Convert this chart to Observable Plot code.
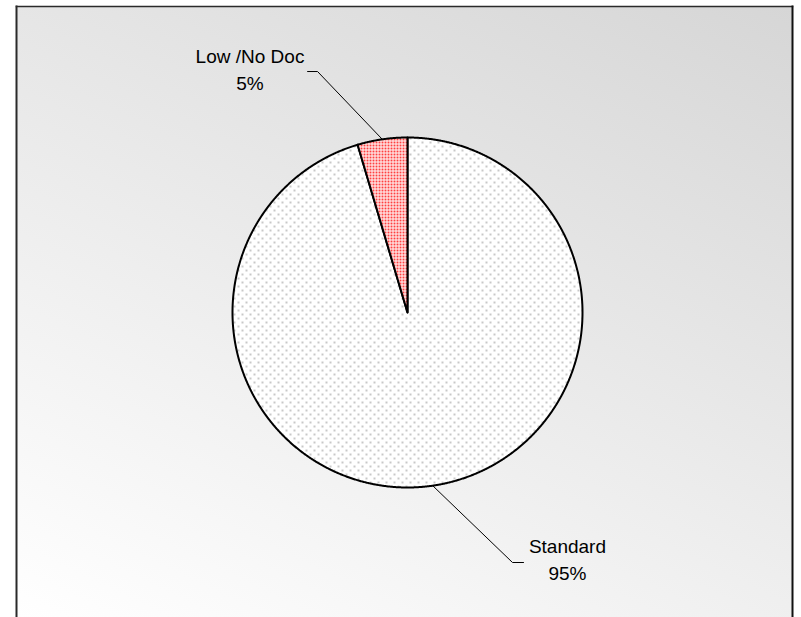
<!DOCTYPE html>
<html><head><meta charset="utf-8">
<script src="https://cdn.jsdelivr.net/npm/d3@7"></script>
<script src="https://cdn.jsdelivr.net/npm/@observablehq/plot@0.6"></script>
<style>
body{margin:0;background:#fff;}
#chart{width:801px;height:617px;overflow:hidden;}
</style>
</head><body><div id="chart"></div>
<script>
// ---- data ----
const categories = ["Standard", "Low /No Doc"];
const values = [95.4, 4.6];
const percentLabels = ["95%", "5%"];

// ---- layout (unit-circle coordinates, pie radius = 1) ----
const labelPos = {"Standard": [0.914, -1.531], "Low /No Doc": [-0.9, 1.274]};
const leaderElbow = {"Standard": [[0.6, -1.4286], [0.663, -1.4286]], "Low /No Doc": [[-0.514, 1.377], [-0.571, 1.377]]};

const rows = categories.map((c, i) => ({category: c, value: values[i], pct: percentLabels[i]}));
const arcs = d3.pie().sort(null).value(d => d.value).startAngle(0).endAngle(2 * Math.PI)(rows);

// slice polygons
const slicePts = [];
for (const a of arcs) {
  const cat = a.data.category;
  slicePts.push({cat, x: 0, y: 0});
  const n = Math.max(2, Math.ceil((a.endAngle - a.startAngle) / (Math.PI / 720)));
  for (let k = 0; k <= n; ++k) {
    const t = a.startAngle + (a.endAngle - a.startAngle) * k / n;
    slicePts.push({cat, x: Math.sin(t), y: Math.cos(t)});
  }
}
// leader lines
const leaderPts = [];
for (const a of arcs) {
  const cat = a.data.category;
  const m = (a.startAngle + a.endAngle) / 2;
  leaderPts.push({cat, x: Math.sin(m), y: Math.cos(m)});
  for (const [x, y] of leaderElbow[cat]) leaderPts.push({cat, x, y});
}
const labels = arcs.map(a => ({
  cat: a.data.category,
  text: a.data.category + "\n" + a.data.pct,
  x: labelPos[a.data.category][0],
  y: labelPos[a.data.category][1]
}));

function defs() {
  const d = d3.create("svg:defs");
  const g = d.append("linearGradient").attr("id", "bgGrad")
    .attr("x1", 1).attr("y1", 0).attr("x2", 0.281).attr("y2", 1.172);
  g.append("stop").attr("offset", 0).attr("stop-color", "#d6d6d6");
  g.append("stop").attr("offset", 1).attr("stop-color", "#ffffff");
  const p1 = d.append("pattern").attr("id", "patStd").attr("patternUnits", "userSpaceOnUse")
    .attr("width", 8).attr("height", 8);
  p1.append("rect").attr("width", 8).attr("height", 8).attr("fill", "#ffffff");
  p1.append("rect").attr("x", 1).attr("y", 1).attr("width", 2).attr("height", 2).attr("fill", "#c8c8c8");
  p1.append("rect").attr("x", 5).attr("y", 5).attr("width", 2).attr("height", 2).attr("fill", "#c8c8c8");
  const p2 = d.append("pattern").attr("id", "patLow").attr("patternUnits", "userSpaceOnUse")
    .attr("width", 3).attr("height", 3);
  p2.append("rect").attr("width", 3).attr("height", 3).attr("fill", "#ffffff");
  p2.append("rect").attr("x", 0).attr("y", 0).attr("width", 2).attr("height", 2).attr("fill", "#ff4040");
  return d.node();
}

const chart = Plot.plot({
  width: 801,
  height: 617,
  marginLeft: 16,
  marginTop: 6,
  marginRight: 9,
  marginBottom: 0,
  x: {domain: [-1, 1], range: [232, 582], axis: null},
  y: {domain: [-1, 1], range: [487, 137], axis: null},
  color: {type: "ordinal", domain: categories, range: ["url(#patStd)", "url(#patLow)"]},
  style: {fontFamily: "'Liberation Sans', Arial, sans-serif", background: "transparent", overflow: "visible"},
  marks: [
    defs,
    Plot.frame({fill: "url(#bgGrad)", stroke: "none"}),
    Plot.frame({anchor: "left", stroke: "#2a2a2a", strokeWidth: 2}),
    Plot.frame({anchor: "top", stroke: "#2a2a2a", strokeWidth: 1.5}),
    Plot.frame({anchor: "right", stroke: "#111", strokeWidth: 2}),
    Plot.line(slicePts, {x: "x", y: "y", z: "cat", fill: "cat", stroke: "#000", strokeWidth: 2, curve: "linear-closed", strokeLinejoin: "round"}),
    Plot.line(leaderPts, {x: "x", y: "y", z: "cat", stroke: "#000", strokeWidth: 1}),
    Plot.text(labels, {x: "x", y: "y", text: "text", lineAnchor: "bottom", lineHeight: 1.42, fontSize: 19, fill: "#000", textAnchor: "middle"})
  ]
});
document.getElementById("chart").appendChild(chart);
</script>
</body></html>
